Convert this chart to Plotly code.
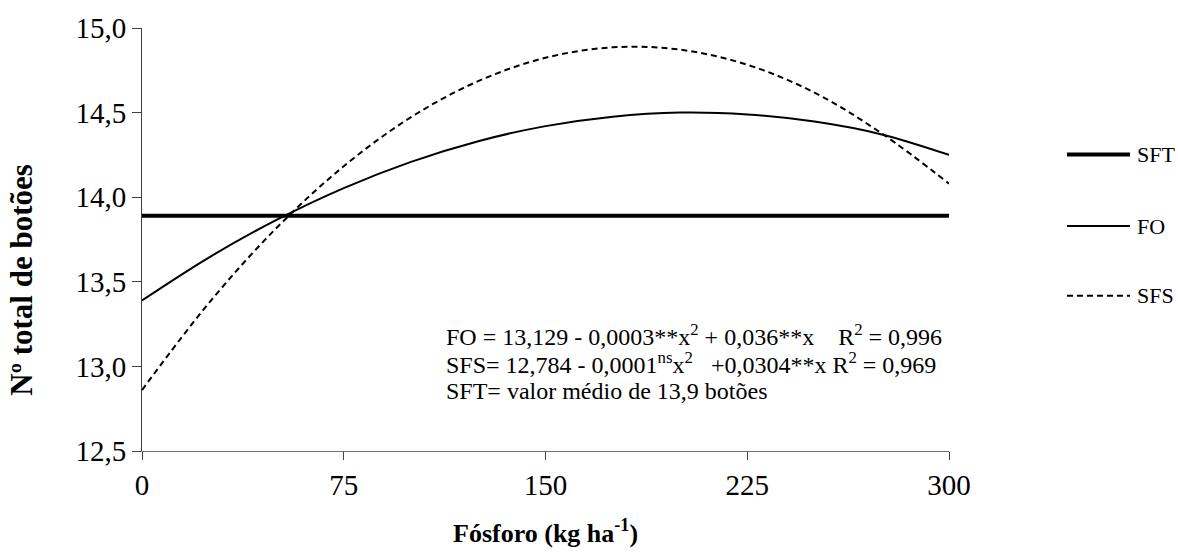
import plotly.graph_objects as go

# Data
fosforo = [0, 25, 50, 75, 100, 125, 150, 175, 200, 225, 250, 275, 300]
fo = [13.39, 13.645, 13.866, 14.054, 14.209, 14.331, 14.42, 14.476, 14.50, 14.489, 14.447, 14.371, 14.25]
sfs = [12.86, 13.377, 13.818, 14.183, 14.473, 14.686, 14.824, 14.886, 14.872, 14.783, 14.618, 14.377, 14.08]
sft = [13.89] * len(fosforo)

series_names = ["SFT", "FO", "SFS"]
x_ticks = [0, 75, 150, 225, 300]
y_ticks = [12.5, 13.0, 13.5, 14.0, 14.5, 15.0]

eq_lines = [
    "FO = 13,129 - 0,0003**x<sup>2</sup> + 0,036**x\u00a0\u00a0\u00a0\u00a0R<sup>2</sup> = 0,996",
    "SFS= 12,784 - 0,0001<sup>ns</sup>x<sup>2</sup>\u00a0\u00a0\u00a0+0,0304**x R<sup>2</sup> = 0,969",
    "SFT= valor médio de 13,9 botões",
]

FONT = "Times New Roman, Liberation Serif, serif"

styles = {
    "SFT": dict(color="black", width=4),
    "FO": dict(color="black", width=2, shape="spline"),
    "SFS": dict(color="black", width=2, dash="6px,4px", shape="spline"),
}
values = {"SFT": sft, "FO": fo, "SFS": sfs}

fig = go.Figure()
for name in series_names:
    fig.add_trace(go.Scatter(x=fosforo, y=values[name], mode="lines", name=name,
                             line=styles[name], showlegend=False, hoverinfo="skip"))

# Equations (one annotation per line for exact spacing)
for txt, yp in zip(eq_lines, [0.275, 0.209, 0.143]):
    fig.add_annotation(x=0.3755, y=yp, xref="paper", yref="paper", xanchor="left", yanchor="middle",
                       text=txt, showarrow=False, align="left", borderpad=0,
                       font=dict(family=FONT, size=24, color="black"))

# Manual legend (long line samples as in the reference)
leg_y = [0.7012, 0.5318, 0.3671]
for name, yp in zip(series_names, leg_y):
    st = styles[name]
    fig.add_shape(type="line", xref="paper", yref="paper", x0=1.1462, x1=1.2243, y0=yp, y1=yp,
                  line=dict(color="black", width=st["width"], dash=st.get("dash", "solid")))
    fig.add_annotation(x=1.230, y=yp, xref="paper", yref="paper", xanchor="left", yanchor="middle",
                       text=name, showarrow=False, font=dict(family=FONT, size=22, color="black"))

# Axis titles
fig.add_annotation(x=-0.1487, y=0.405, xref="paper", yref="paper", xanchor="center", yanchor="middle",
                   text="<b>Nº total de botões</b>", textangle=-90, showarrow=False,
                   font=dict(family=FONT, size=31, color="black"))
fig.add_annotation(x=0.5, y=-0.19, xref="paper", yref="paper", xanchor="center", yanchor="middle",
                   text="<b>Fósforo (kg ha<sup>-1</sup>)</b>", showarrow=False,
                   font=dict(family=FONT, size=26, color="black"))

fig.update_layout(
    width=1178, height=556,
    margin=dict(l=142, r=229, t=26, b=105),
    paper_bgcolor="white", plot_bgcolor="white",
    separators=",.",
    font=dict(family=FONT, color="black"),
    showlegend=False,
    hovermode=False,
    xaxis=dict(range=[0, 300], tickvals=x_ticks, showgrid=False, zeroline=False,
               showline=True, linecolor="#707070", linewidth=1,
               ticks="outside", ticklen=8, tickcolor="#404040",
               tickfont=dict(family=FONT, size=29, color="black")),
    yaxis=dict(range=[12.5, 15.0], tickvals=y_ticks, tickformat=".1f", showgrid=False, zeroline=False,
               showline=True, linecolor="#404040", linewidth=1,
               ticks="outside", ticklen=9, tickcolor="#404040",
               tickfont=dict(family=FONT, size=29, color="black")),
)

fig.write_html("out.html", config={"displayModeBar": False},
               post_script="document.body.style.margin='0';document.body.style.padding='0';")
